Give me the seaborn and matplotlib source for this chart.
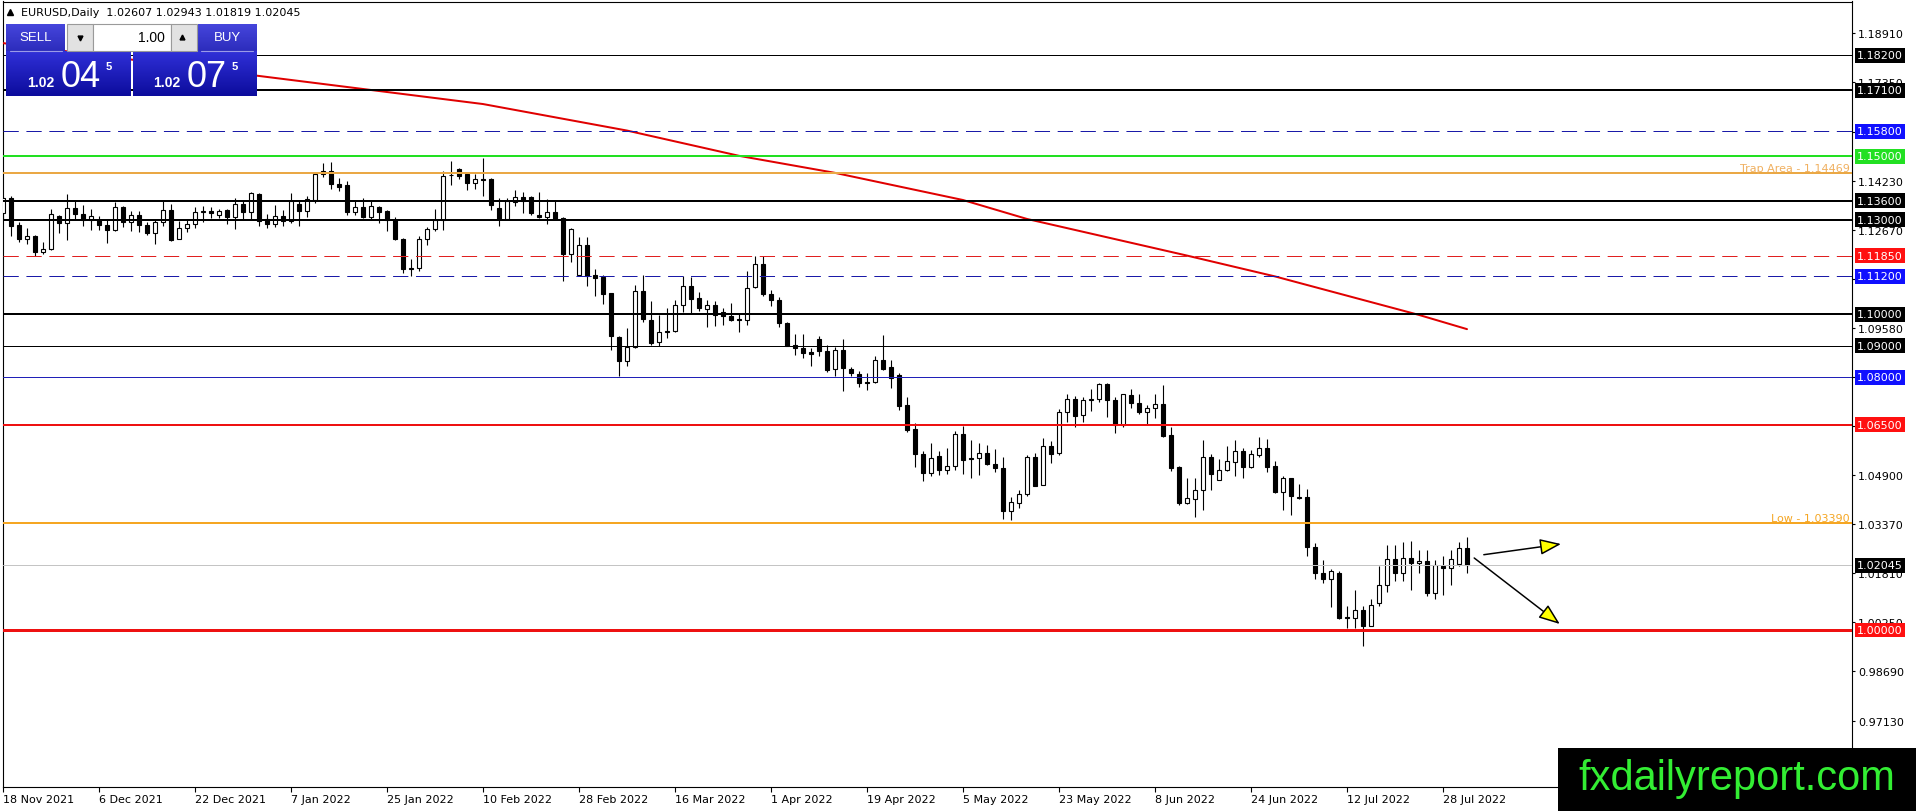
import numpy as np
import pandas as pd
import matplotlib
matplotlib.use("Agg")
import matplotlib.pyplot as plt
import matplotlib.transforms as mtransforms
from matplotlib.patches import Rectangle
from matplotlib.colors import LinearSegmentedColormap
import seaborn as sns

# EURUSD daily candles, 18 Nov 2021 .. 2 Aug 2022
opens = [1.1320, 1.1369, 1.1284, 1.1237, 1.1249, 1.1196, 1.1207, 1.1311, 1.1289, 1.1337,
         1.1318, 1.1300, 1.1300, 1.1283, 1.1267, 1.1340, 1.1292, 1.1313, 1.1283, 1.1258,
         1.1293, 1.1329, 1.1239, 1.1274, 1.1286, 1.1324, 1.1326, 1.1315, 1.1329, 1.1308,
         1.1348, 1.1323, 1.1382, 1.1302, 1.1287, 1.1311, 1.1295, 1.1350, 1.1326, 1.1363,
         1.1445, 1.1453, 1.1414, 1.1408, 1.1323, 1.1340, 1.1307, 1.1340, 1.1326, 1.1300,
         1.1240, 1.1147, 1.1147, 1.1237, 1.1270, 1.1300, 1.1441, 1.1461, 1.1445, 1.1416,
         1.1427, 1.1427, 1.1337, 1.1302, 1.1356, 1.1372, 1.1372, 1.1315, 1.1307, 1.1324,
         1.1305, 1.1191, 1.1124, 1.1218, 1.1123, 1.1118, 1.1066, 1.0928, 1.0851, 1.0897,
         1.1073, 1.0983, 1.0911, 1.0947, 1.0946, 1.1031, 1.1091, 1.1052, 1.1017, 1.1030,
         1.1006, 1.0996, 1.0985, 1.0983, 1.1085, 1.1160, 1.1065, 1.1046, 1.0973, 1.0903,
         1.0894, 1.0879, 1.0922, 1.0885, 1.0827, 1.0888, 1.0827, 1.0811, 1.0787, 1.0785,
         1.0854, 1.0832, 1.0808, 1.0714, 1.0637, 1.0559, 1.0497, 1.0552, 1.0506, 1.0518,
         1.0622, 1.0545, 1.0545, 1.0561, 1.0527, 1.0512, 1.0378, 1.0403, 1.0430, 1.0547,
         1.0460, 1.0582, 1.0562, 1.0689, 1.0733, 1.0681, 1.0728, 1.0733, 1.0779, 1.0730,
         1.0649, 1.0744, 1.0718, 1.0691, 1.0702, 1.0715, 1.0617, 1.0515, 1.0403, 1.0415,
         1.0443, 1.0547, 1.0475, 1.0508, 1.0531, 1.0567, 1.0517, 1.0554, 1.0578, 1.0519,
         1.0438, 1.0480, 1.0422, 1.0420, 1.0263, 1.0181, 1.0162, 1.0181, 1.0041, 1.0038,
         1.0064, 1.0014, 1.0086, 1.0144, 1.0225, 1.0181, 1.0228, 1.0212, 1.0220, 1.0117,
         1.0204, 1.0196, 1.0209, 1.02607]
highs = [1.1374, 1.1375, 1.1292, 1.1274, 1.1250, 1.1228, 1.1332, 1.1316, 1.1382, 1.1358,
         1.1346, 1.1334, 1.1311, 1.1300, 1.1355, 1.1344, 1.1326, 1.1326, 1.1292, 1.1298,
         1.1358, 1.1350, 1.1295, 1.1300, 1.1340, 1.1342, 1.1340, 1.1334, 1.1334, 1.1369,
         1.1358, 1.1387, 1.1384, 1.1319, 1.1346, 1.1330, 1.1384, 1.1363, 1.1376, 1.1452,
         1.1480, 1.1482, 1.1432, 1.1421, 1.1358, 1.1369, 1.1358, 1.1344, 1.1330, 1.1308,
         1.1242, 1.1174, 1.1247, 1.1277, 1.1332, 1.1453, 1.1485, 1.1464, 1.1448, 1.1443,
         1.1494, 1.1432, 1.1369, 1.1369, 1.1393, 1.1387, 1.1376, 1.1388, 1.1365, 1.1358,
         1.1308, 1.1274, 1.1245, 1.1245, 1.1142, 1.1123, 1.1068, 1.0930, 1.0957, 1.1094,
         1.1123, 1.1041, 1.0999, 1.1020, 1.1046, 1.1120, 1.1118, 1.1070, 1.1044, 1.1041,
         1.1020, 1.1036, 1.1002, 1.1137, 1.1185, 1.1185, 1.1078, 1.1055, 1.0975, 1.0939,
         1.0939, 1.0893, 1.0932, 1.0904, 1.0895, 1.0923, 1.0832, 1.0819, 1.0814, 1.0869,
         1.0936, 1.0854, 1.0814, 1.0738, 1.0656, 1.0566, 1.0592, 1.0566, 1.0577, 1.0631,
         1.0645, 1.0601, 1.0592, 1.0586, 1.0574, 1.0549, 1.0420, 1.0443, 1.0554, 1.0561,
         1.0607, 1.0598, 1.0699, 1.0747, 1.0741, 1.0737, 1.0762, 1.0783, 1.0783, 1.0737,
         1.0749, 1.0762, 1.0749, 1.0712, 1.0747, 1.0776, 1.0644, 1.0519, 1.0483, 1.0483,
         1.0601, 1.0559, 1.0543, 1.0582, 1.0603, 1.0578, 1.0570, 1.0612, 1.0604, 1.0536,
         1.0487, 1.0483, 1.0462, 1.0448, 1.0276, 1.0223, 1.0193, 1.0186, 1.0077, 1.0126,
         1.0077, 1.0098, 1.0204, 1.0270, 1.0270, 1.0278, 1.0281, 1.0252, 1.0252, 1.0223,
         1.0233, 1.0254, 1.0278, 1.02943]
lows = [1.1300, 1.1247, 1.1228, 1.1224, 1.1186, 1.1190, 1.1205, 1.1258, 1.1235, 1.1302,
        1.1281, 1.1266, 1.1266, 1.1226, 1.1263, 1.1277, 1.1263, 1.1260, 1.1252, 1.1224,
        1.1281, 1.1231, 1.1237, 1.1261, 1.1274, 1.1292, 1.1305, 1.1305, 1.1287, 1.1270,
        1.1300, 1.1302, 1.1279, 1.1274, 1.1277, 1.1281, 1.1290, 1.1281, 1.1308, 1.1353,
        1.1435, 1.1397, 1.1390, 1.1313, 1.1316, 1.1305, 1.1302, 1.1289, 1.1263, 1.1235,
        1.1131, 1.1121, 1.1136, 1.1218, 1.1263, 1.1266, 1.1409, 1.1427, 1.1395, 1.1398,
        1.1376, 1.1330, 1.1279, 1.1300, 1.1342, 1.1321, 1.1316, 1.1305, 1.1287, 1.1300,
        1.1105, 1.1165, 1.1121, 1.1089, 1.1057, 1.1033, 1.0888, 1.0804, 1.0835, 1.0894,
        1.0975, 1.0904, 1.0901, 1.0925, 1.0943, 1.1006, 1.1002, 1.1010, 1.0960, 1.0964,
        1.0967, 1.0979, 1.0943, 1.0967, 1.1083, 1.1059, 1.1025, 1.0960, 1.0899, 1.0872,
        1.0862, 1.0835, 1.0869, 1.0818, 1.0806, 1.0756, 1.0804, 1.0770, 1.0759, 1.0782,
        1.0824, 1.0767, 1.0696, 1.0627, 1.0515, 1.0471, 1.0489, 1.0492, 1.0495, 1.0507,
        1.0495, 1.0481, 1.0492, 1.0522, 1.0501, 1.0352, 1.0348, 1.0388, 1.0424, 1.0456,
        1.0458, 1.0530, 1.0554, 1.0660, 1.0642, 1.0660, 1.0694, 1.0723, 1.0675, 1.0625,
        1.0644, 1.0702, 1.0683, 1.0654, 1.0670, 1.0610, 1.0504, 1.0396, 1.0399, 1.0359,
        1.0380, 1.0443, 1.0475, 1.0504, 1.0489, 1.0483, 1.0512, 1.0547, 1.0501, 1.0435,
        1.0380, 1.0364, 1.0416, 1.0234, 1.0162, 1.0149, 1.0073, 1.0035, 1.0006, 1.0006,
        0.9950, 1.0012, 1.0077, 1.0119, 1.0154, 1.0154, 1.0128, 1.0181, 1.0107, 1.0098,
        1.0112, 1.0144, 1.0202, 1.01819]
closes = [1.1369, 1.1279, 1.1237, 1.1247, 1.1196, 1.1207, 1.1319, 1.1289, 1.1337, 1.1318,
          1.1300, 1.1311, 1.1283, 1.1267, 1.1340, 1.1292, 1.1314, 1.1283, 1.1256, 1.1292,
          1.1329, 1.1235, 1.1274, 1.1286, 1.1324, 1.1326, 1.1321, 1.1328, 1.1308, 1.1348,
          1.1323, 1.1384, 1.1295, 1.1286, 1.1311, 1.1295, 1.1360, 1.1326, 1.1365, 1.1443,
          1.1453, 1.1413, 1.1402, 1.1323, 1.1340, 1.1307, 1.1344, 1.1323, 1.1300, 1.1237,
          1.1144, 1.1144, 1.1237, 1.1270, 1.1300, 1.1439, 1.1442, 1.1439, 1.1416, 1.1427,
          1.1426, 1.1345, 1.1302, 1.1358, 1.1372, 1.1358, 1.1321, 1.1307, 1.1324, 1.1302,
          1.1191, 1.1270, 1.1218, 1.1120, 1.1116, 1.1065, 1.0930, 1.0851, 1.0897, 1.1073,
          1.0985, 1.0909, 1.0945, 1.0944, 1.1031, 1.1091, 1.1049, 1.1020, 1.1030, 1.0999,
          1.0996, 1.0981, 1.0981, 1.1083, 1.1160, 1.1065, 1.1046, 1.0973, 1.0901, 1.0892,
          1.0877, 1.0874, 1.0883, 1.0823, 1.0888, 1.0829, 1.0813, 1.0782, 1.0782, 1.0854,
          1.0828, 1.0798, 1.0709, 1.0635, 1.0558, 1.0497, 1.0545, 1.0506, 1.0518, 1.0622,
          1.0540, 1.0542, 1.0561, 1.0527, 1.0512, 1.0378, 1.0406, 1.0432, 1.0547, 1.0457,
          1.0582, 1.0557, 1.0690, 1.0733, 1.0677, 1.0728, 1.0733, 1.0779, 1.0730, 1.0649,
          1.0747, 1.0718, 1.0691, 1.0702, 1.0715, 1.0614, 1.0512, 1.0401, 1.0417, 1.0445,
          1.0547, 1.0493, 1.0508, 1.0535, 1.0567, 1.0517, 1.0556, 1.0578, 1.0517, 1.0438,
          1.0480, 1.0424, 1.0419, 1.0263, 1.0181, 1.0162, 1.0186, 1.0038, 1.0037, 1.0064,
          1.0014, 1.0080, 1.0144, 1.0225, 1.0181, 1.0228, 1.0212, 1.0220, 1.0117, 1.0207,
          1.0196, 1.0225, 1.0260, 1.02045]

# x-axis labels, one every 12 bars
date_labels = ['18 Nov 2021', '6 Dec 2021', '22 Dec 2021', '7 Jan 2022', '25 Jan 2022',
               '10 Feb 2022', '28 Feb 2022', '16 Mar 2022', '1 Apr 2022', '19 Apr 2022',
               '5 May 2022', '23 May 2022', '8 Jun 2022', '24 Jun 2022', '12 Jul 2022',
               '28 Jul 2022']

# price scale ticks on the right
ytick_values = [1.18910, 1.17350, 1.15790, 1.14230, 1.12670, 1.11110, 1.09580, 1.08020,
                1.06460, 1.04900, 1.03370, 1.01810, 1.00250, 0.98690, 0.97130]

# long moving average (red), sampled at bar numbers
ma_bars = [0, 32, 60, 78, 92, 104, 120, 128, 148, 159, 177, 183]
ma_values = [1.1859, 1.1755, 1.1666, 1.1582, 1.1502, 1.1448, 1.1362, 1.1302, 1.1186,
             1.1120, 1.0998, 1.0953]

# horizontal levels
level_prices = [1.18200, 1.17100, 1.15800, 1.15000, 1.14469, 1.13600, 1.13000, 1.11850,
                1.11200, 1.10000, 1.09000, 1.08000, 1.06500, 1.03390, 1.02045, 1.00000]
level_colors = ['black', 'black', '#1a1aa8', '#22e022', '#eaa845', 'black', 'black', '#e02020',
                '#1a1aa8', 'black', 'black', '#2020b8', '#ee1111', '#f5a623', '#c4c4c4', '#ee1111']
level_px = [1, 2, 1, 2, 2, 2, 2, 1, 1, 2, 1, 1, 2, 2, 1, 3]
level_dashed = [False, False, True, False, False, False, False, True,
                True, False, False, False, False, False, False, False]
level_box = ['black', 'black', '#1010ff', '#22e022', None, 'black', 'black', '#ff1010',
             '#1010ff', 'black', 'black', '#1010ff', '#ff1010', None, 'black', '#ff1010']
named_levels = {1.14469: ('Trap Area - 1.14469', '#f0b060'),
                1.03390: ('Low - 1.03390', '#f5a623')}

# two scenario arrows drawn after the last bar
arrow_x0 = [185.1, 183.9]
arrow_y0 = [1.02385, 1.02281]
arrow_x1 = [194.75, 194.6]
arrow_y1 = [1.02724, 1.00190]

df = pd.DataFrame({'open': opens, 'high': highs, 'low': lows, 'close': closes})
df['bar'] = np.arange(len(df))
df['up'] = df['close'] >= df['open']

sns.set_theme(style="white")
plt.rcParams['font.family'] = ['DejaVu Sans']
plt.rcParams['lines.scale_dashes'] = False

W, H = 1916, 812
PX = 0.72  # one pixel in points at dpi 100
fig = plt.figure(figsize=(W / 100, H / 100), dpi=100)
fig.patch.set_facecolor('white')

left, right, top, bottom = 2.5, 1852, 2.5, 788
ax = fig.add_axes([left / W, (H - bottom) / H, (right - left) / W, (bottom - top) / H])
ax.set_facecolor('white')

# candles: wicks, then bodies
ax.vlines(df['bar'], df['low'], df['high'], color='black', linewidth=0.8, zorder=2)
up = df[df['up']]
dn = df[~df['up']]
ax.bar(up['bar'], up['close'] - up['open'], bottom=up['open'], width=0.55,
       facecolor='white', edgecolor='black', linewidth=0.8, zorder=3)
ax.bar(dn['bar'], dn['open'] - dn['close'], bottom=dn['close'], width=0.55,
       facecolor='black', edgecolor='black', linewidth=0.8, zorder=3)

# moving average
sns.lineplot(x=ma_bars, y=ma_values, ax=ax, color='#e00000', linewidth=2 * PX, zorder=4)

# horizontal levels with price boxes
trans = mtransforms.blended_transform_factory(ax.transAxes, ax.transData)
for price, col, w, dashed, box in zip(level_prices, level_colors, level_px, level_dashed, level_box):
    ls = (0, (11, 5.5)) if dashed else '-'
    ax.axhline(price, color=col, linewidth=w * PX, linestyle=ls, zorder=5)
    if box is not None:
        ax.text(1 + 5 / (right - left), price, f'{price:.5f}', transform=trans,
                ha='left', va='center', fontsize=8, color='white', clip_on=False, zorder=10,
                bbox=dict(boxstyle='square,pad=0.22', fc=box, ec='none'))
    if price in named_levels:
        txt, tcol = named_levels[price]
        ax.text(1 - 2 / (right - left), price, txt, transform=trans, ha='right',
                va='bottom', fontsize=8, color=tcol, zorder=6)

# scenario arrows
for x0, y0, x1, y1 in zip(arrow_x0, arrow_y0, arrow_x1, arrow_y1):
    ax.annotate('', xy=(x1, y1), xytext=(x0, y0), zorder=7,
                arrowprops=dict(arrowstyle='-|>,head_length=1.0,head_width=0.38',
                                mutation_scale=13, fc='#ffff00', ec='black',
                                lw=1.5 * PX, shrinkA=0, shrinkB=0))

# axes, ticks and frame
ax.set_xlim((left - 3) / 8, (right - 3) / 8)
ax.set_ylim(1 + (631 - bottom) / 3157, 1 + (631 - top) / 3157)
ax.set_xlabel('')
ax.set_ylabel('')
ax.set_xticks(range(0, 12 * len(date_labels), 12))
ax.set_xticklabels(date_labels)
for lbl in ax.get_xticklabels():
    lbl.set_horizontalalignment('left')
ax.yaxis.tick_right()
ax.set_yticks(ytick_values)
ax.set_yticklabels([f'{v:.5f}' for v in ytick_values])
ax.tick_params(axis='x', direction='out', length=3.6, width=0.8, pad=1.5, labelsize=8,
               colors='black', bottom=True)
ax.tick_params(axis='y', direction='out', length=2.2, width=0.8, pad=2.2, labelsize=8,
               colors='black', right=True, left=False)
for sp in ax.spines.values():
    sp.set_visible(True)
    sp.set_color('black')
    sp.set_linewidth(0.8)
ax.grid(False)

# overlay in pixel coordinates for the trading panel, header and watermark
ov = fig.add_axes([0, 0, 1, 1], zorder=5)
ov.set_facecolor('none')
ov.axis('off')


def grad_box(x0, y0, x1, y1, c_top, c_bot):
    cmap = LinearSegmentedColormap.from_list('g', [c_top, c_bot])
    grad = np.linspace(0, 1, 64).reshape(-1, 1)
    ov.imshow(grad, cmap=cmap, extent=(x0, x1, y1, y0), aspect='auto',
              interpolation='bilinear', zorder=1)


ov.plot([10], [12.5], marker='^', color='black', markersize=4.5)
ov.text(21, 13, 'EURUSD,Daily  1.02607 1.02943 1.01819 1.02045', fontsize=8,
        va='center', ha='left', color='black')

panel_font = 'Liberation Sans'
grad_box(6, 25, 65, 52, '#4646dc', '#2c2cbc')
grad_box(198, 25, 257, 52, '#4646dc', '#2c2cbc')
grad_box(6, 52, 131, 97, '#3030d8', '#0c0c9c')
grad_box(133, 52, 257, 97, '#3030d8', '#0c0c9c')
ov.plot([10, 62], [52, 52], color='#9a9ae8', lw=0.8, zorder=2)
ov.plot([201, 253], [52, 52], color='#9a9ae8', lw=0.8, zorder=2)
ov.add_patch(Rectangle((67, 25), 26, 27, fc='#e2e2e2', ec='#9a9a9a', lw=0.8, zorder=2))
ov.add_patch(Rectangle((93, 25), 78, 27, fc='white', ec='#9a9a9a', lw=0.8, zorder=2))
ov.add_patch(Rectangle((171, 25), 26, 27, fc='#e2e2e2', ec='#9a9a9a', lw=0.8, zorder=2))
ov.plot([80], [38.5], marker='v', color='black', markersize=3.5, zorder=3)
ov.plot([182], [37.5], marker='^', color='black', markersize=3.5, zorder=3)
ov.text(165, 38, '1.00', fontsize=10, ha='right', va='center', color='black',
        family=panel_font, zorder=3)
ov.text(35.5, 38, 'SELL', fontsize=9.5, ha='center', va='center', color='white',
        family=panel_font, zorder=3)
ov.text(227.5, 38, 'BUY', fontsize=9.5, ha='center', va='center', color='white',
        family=panel_font, zorder=3)
for xs, big in ((27, '04'), (153, '07')):
    ov.text(xs, 87, '1.02', fontsize=10, fontweight='bold', ha='left', va='baseline',
            color='white', family=panel_font, zorder=3)
    ov.text(xs + 34, 87, big, fontsize=26, ha='left', va='baseline', color='white',
            family=panel_font, zorder=3)
    ov.text(xs + 79, 70, '5', fontsize=8, fontweight='bold', ha='left', va='baseline',
            color='white', family=panel_font, zorder=3)

ov.add_patch(Rectangle((1558, 749), W - 1558, H - 749, fc='black', ec='none', zorder=2))
ov.text(1737, 790, 'fxdailyreport.com', fontsize=30, ha='center', va='baseline',
        color='#33ee33', family=panel_font, zorder=3)

ov.set_xlim(0, W)
ov.set_ylim(H, 0)

fig.savefig('out.png', dpi=100, facecolor='white')
